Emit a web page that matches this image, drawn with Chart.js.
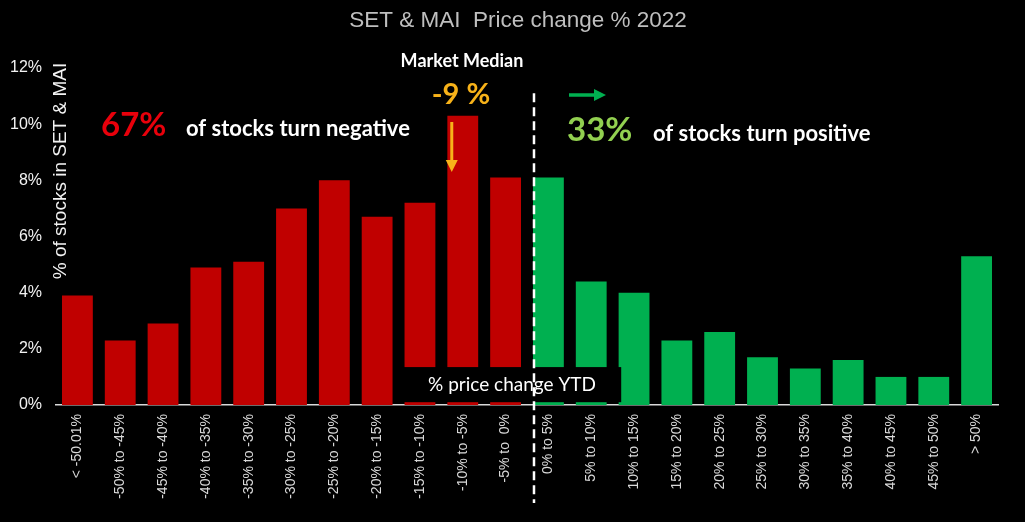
<!DOCTYPE html>
<html>
<head>
<meta charset="utf-8">
<script src="https://cdn.jsdelivr.net/npm/chart.js@4/dist/chart.umd.min.js"></script>
<style>
  html, body { margin: 0; padding: 0; background: #000; }
  #wrap { width: 1025px; height: 522px; }
</style>
</head>
<body>
<div id="wrap"><canvas id="myChart"></canvas></div>
<script>
// price change buckets (YTD 2022)
var categories = [
  "< -50.01%", "-50% to -45%", "-45% to -40%", "-40% to -35%", "-35% to -30%",
  "-30% to -25%", "-25% to -20%", "-20% to -15%", "-15% to -10%", "-10% to -5%",
  "-5% to  0%",
  "0% to 5%", "5% to 10%", "10% to 15%", "15% to 20%", "20% to 25%",
  "25% to 30%", "30% to 35%", "35% to 40%", "40% to 45%", "45% to 50%", "> 50%"
];
// % of stocks in SET & MAI per bucket
var shareValues = [3.9, 2.3, 2.9, 4.9, 5.1, 7.0, 8.0, 6.7, 7.2, 10.3, 8.1,
                   8.1, 4.4, 4.0, 2.3, 2.6, 1.7, 1.3, 1.6, 1.0, 1.0, 5.3];
var yTicks = [0, 2, 4, 6, 8, 10, 12];
var negCount = 11;

var redColor = "#c00000";
var greenColor = "#00b050";
var barColors = categories.map(function (c, i) {
  return i < negCount ? redColor : greenColor;
});

var annotations = {
  id: "annotations",
  beforeDraw: function (chart) {
    var ctx = chart.ctx;
    ctx.save();
    ctx.fillStyle = "#000";
    ctx.fillRect(0, 0, chart.width, chart.height);
    ctx.restore();
  },
  afterDatasetsDraw: function (chart) {
    var ctx = chart.ctx;
    var x = chart.scales.x, y = chart.scales.y;
    ctx.save();
    // "% price change YTD" box over the bars
    var bl = x.getPixelForValue(7.6), br = x.getPixelForValue(12.7);
    var bt = y.getPixelForValue(1.35), bb = y.getPixelForValue(0.1);
    ctx.fillStyle = "#000";
    ctx.fillRect(bl, bt, br - bl, bb - bt);
    ctx.fillStyle = "#fff";
    ctx.font = "19px Lato";
    ctx.textAlign = "center";
    ctx.textBaseline = "middle";
    ctx.fillText("% price change YTD", (bl + br) / 2, (bt + bb) / 2);
    ctx.restore();
  },
  afterDraw: function (chart) {
    var ctx = chart.ctx;
    var x = chart.scales.x, y = chart.scales.y;
    var meta = chart.getDatasetMeta(0);
    ctx.save();

    // main title (drawn here so it can sit a bit right of centre like the original)
    ctx.fillStyle = "#bfbfbf";
    ctx.font = "22.5px 'Liberation Sans'";
    ctx.textAlign = "center";
    ctx.textBaseline = "middle";
    ctx.fillText("SET & MAI  Price change % 2022", 518, 21);

    // y axis title
    ctx.translate(61, 171);
    ctx.rotate(-Math.PI / 2);
    ctx.fillStyle = "#f2f2f2";
    ctx.font = "19px 'Liberation Sans'";
    ctx.fillText("% of stocks in SET & MAI", 0, 0);
    ctx.setTransform(chart.currentDevicePixelRatio, 0, 0, chart.currentDevicePixelRatio, 0, 0);

    // dashed divider at 0%
    var firstGreen = meta.data[negCount];
    var dx = firstGreen.x - firstGreen.width / 2 + 1;
    ctx.strokeStyle = "#fff";
    ctx.lineWidth = 2.5;
    ctx.setLineDash([9, 5]);
    ctx.beginPath();
    ctx.moveTo(dx, y.getPixelForValue(11.1));
    ctx.lineTo(dx, chart.chartArea.bottom + 98);
    ctx.stroke();
    ctx.setLineDash([]);

    ctx.textBaseline = "alphabetic";
    ctx.textAlign = "left";
    // left annotation
    ctx.fillStyle = "#e8000b";
    ctx.font = "bold 33px Lato";
    ctx.fillText("67%", 101, 136);
    ctx.fillStyle = "#fff";
    ctx.font = "bold 22px Lato";
    ctx.fillText("of stocks turn negative", 186, 136);

    // right annotation
    ctx.fillStyle = "#92d050";
    ctx.font = "bold 33px Lato";
    ctx.fillText("33%", 567, 141);
    ctx.fillStyle = "#fff";
    ctx.font = "bold 22px Lato";
    ctx.fillText("of stocks turn positive", 653, 141);

    // market median
    ctx.textAlign = "center";
    ctx.fillStyle = "#fff";
    ctx.font = "bold 18px Lato";
    ctx.fillText("Market Median", 462, 67);
    ctx.fillStyle = "#f7b219";
    ctx.font = "bold 29px Lato";
    ctx.fillText("-9 %", 461, 104);

    // orange arrow down into the -10% to -5% bar
    var ax = meta.data[9].x - 11;
    ctx.strokeStyle = "#f7b219";
    ctx.fillStyle = "#f7b219";
    ctx.lineWidth = 3;
    ctx.beginPath();
    ctx.moveTo(ax, 122);
    ctx.lineTo(ax, 162);
    ctx.stroke();
    ctx.beginPath();
    ctx.moveTo(ax - 6, 160);
    ctx.lineTo(ax + 6, 160);
    ctx.lineTo(ax, 172);
    ctx.closePath();
    ctx.fill();

    // green arrow to the right
    ctx.strokeStyle = greenColor;
    ctx.fillStyle = greenColor;
    ctx.lineWidth = 3.5;
    ctx.beginPath();
    ctx.moveTo(569, 95);
    ctx.lineTo(596, 95);
    ctx.stroke();
    ctx.beginPath();
    ctx.moveTo(594, 89);
    ctx.lineTo(606, 95);
    ctx.lineTo(594, 101);
    ctx.closePath();
    ctx.fill();

    ctx.restore();
  }
};

Chart.defaults.font.family = "'Liberation Sans', Arial, sans-serif";

new Chart("myChart", {
  type: "bar",
  data: {
    labels: categories,
    datasets: [
      {
        data: shareValues,
        backgroundColor: barColors,
        barPercentage: 0.72,
        categoryPercentage: 1.0
      }
    ]
  },
  options: {
    responsive: true,
    maintainAspectRatio: false,
    animation: false,
    layout: { padding: { left: 0, right: 27, top: 68, bottom: 0 } },
    plugins: {
      legend: { display: false },
      tooltip: { enabled: false },
      title: { display: false }
    },
    scales: {
      x: {
        grid: { display: false, drawTicks: false },
        border: { display: true, color: "#d9d9d9", width: 1.5 },
        ticks: {
          color: "#d9d9d9",
          font: { size: 14 },
          minRotation: 90,
          maxRotation: 90,
          autoSkip: false,
          padding: 9
        },
        afterFit: function (scale) { scale.height = 117; }
      },
      y: {
        min: 0,
        max: 12,
        grid: { display: false, drawTicks: false },
        border: { display: false },
        afterBuildTicks: function (scale) {
          scale.ticks = yTicks.map(function (v) { return { value: v }; });
        },
        ticks: {
          color: "#f2f2f2",
          font: { size: 16 },
          padding: 14,
          callback: function (v) { return v + "%"; }
        },
        afterFit: function (scale) { scale.width = 56; }
      }
    }
  },
  plugins: [annotations]
});
</script>
</body>
</html>
